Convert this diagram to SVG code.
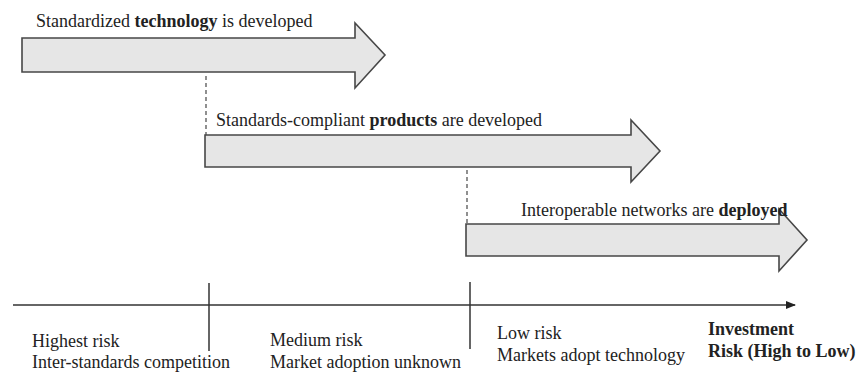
<svg xmlns="http://www.w3.org/2000/svg" width="859" height="373" viewBox="0 0 859 373">
<style>
.arrow{fill:#e6e6e6;stroke:#474747;stroke-width:1.6;stroke-linejoin:miter}
.t{font-family:"Liberation Serif","Times New Roman",serif;font-size:18px;fill:#222}
.b{font-weight:bold}
.dash{stroke:#555;stroke-width:1.3;stroke-dasharray:4,3;fill:none}
.axis{stroke:#333;stroke-width:1.5;fill:none}
</style>
<defs>
<marker id="ah" markerWidth="10" markerHeight="8" refX="9" refY="4" orient="auto" markerUnits="userSpaceOnUse">
<path d="M0,0 L10,4 L0,8 Z" fill="#222"/>
</marker>
</defs>
<g id="connectors">
<line class="dash" x1="206" y1="76" x2="206" y2="135"/>
<line class="dash" x1="467" y1="170" x2="467" y2="224"/>
<line class="axis" x1="13" y1="305" x2="795" y2="305" marker-end="url(#ah)"/>
<line class="axis" x1="209" y1="283" x2="209" y2="351"/>
<line class="axis" x1="470" y1="282" x2="470" y2="349"/>
</g>
<g id="arrow1">
<path class="arrow" d="M22,38 L355,38 L355,23 L385,55 L355,88 L355,72 L22,72 Z"/>
<text class="t" x="36" y="27">Standardized <tspan class="b">technology</tspan> is developed</text>
</g>
<g id="arrow2">
<path class="arrow" d="M205,135 L631,135 L631,120 L660,151 L631,182 L631,167 L205,167 Z"/>
<text class="t" x="216" y="126">Standards-compliant <tspan class="b">products</tspan> are developed</text>
</g>
<g id="arrow3">
<path class="arrow" d="M466,224 L779,224 L779,209 L807,240 L779,271 L779,256 L466,256 Z"/>
<text class="t" x="521" y="216">Interoperable networks are <tspan class="b">deployed</tspan></text>
</g>
<g id="label-high">
<text class="t" x="32" y="347">Highest risk</text>
<text class="t" x="32" y="368">Inter-standards competition</text>
</g>
<g id="label-medium">
<text class="t" x="270" y="346">Medium risk</text>
<text class="t" x="270" y="368">Market adoption unknown</text>
</g>
<g id="label-low">
<text class="t" x="497" y="339">Low risk</text>
<text class="t" x="497" y="361">Markets adopt technology</text>
</g>
<g id="label-axis">
<text class="t b" x="708" y="335">Investment</text>
<text class="t b" x="708" y="357">Risk (High to Low)</text>
</g>
</svg>
